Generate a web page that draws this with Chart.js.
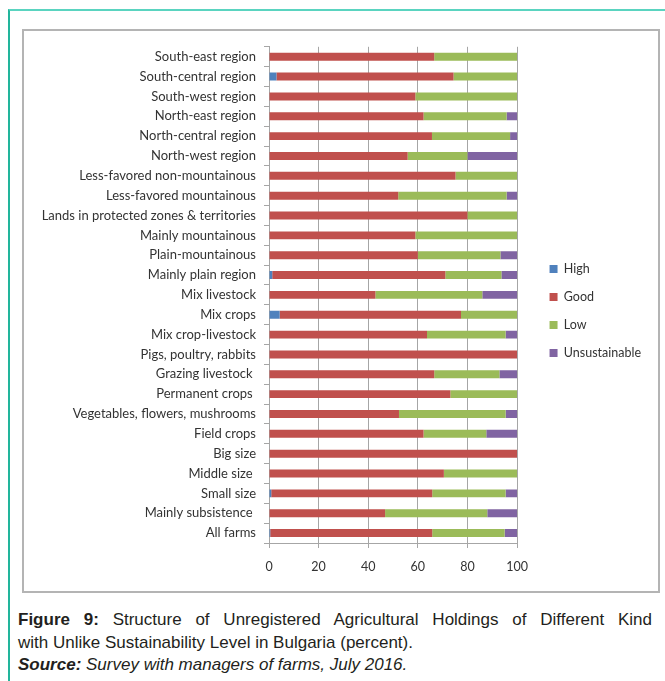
<!DOCTYPE html>
<html>
<head>
<meta charset="utf-8">
<script src="https://cdn.jsdelivr.net/npm/chart.js@4/dist/chart.umd.min.js"></script>
<style>
  html, body { margin: 0; padding: 0; background: #fff; overflow: hidden; }
  body { width: 665px; height: 681px; position: relative; }
  .figura { position: absolute; left: 8px; top: 9px; width: 700px; height: 700px;
            border-left: 2px solid #22b59c; border-top: 2px solid #5ad4c0; }
  .moldura { position: absolute; left: 22px; top: 29px; width: 634px; height: 560px;
             border: 2px solid #b4b4b4; }
  .moldura canvas { display: block; }
  .legenda { position: absolute; left: 18px; top: 609px; width: 634px;
             font-family: "Liberation Sans", Arial, sans-serif; font-size: 17px;
             line-height: 22.5px; color: #231f20; }
  .legenda .l1 { text-align: justify; text-align-last: justify; }
</style>
</head>
<body>
<div class="figura"></div>
<div class="moldura"><canvas id="sustChart" width="634" height="560"></canvas></div>
<div class="legenda">
  <div class="l1"><b>Figure 9:</b> Structure of Unregistered Agricultural Holdings of Different Kind</div>
  <div>with Unlike Sustainability Level in Bulgaria (percent).</div>
  <div><b><i>Source:</i></b> <i>Survey with managers of farms, July 2016.</i></div>
</div>
<script>
const corAlta = '#4f81bd';
const corBoa = '#c0504d';
const corBaixa = '#9bbb59';
const corInsust = '#8064a2';
const corTexto = '#333333';
const corGrade = '#a6a6a6';

const categorias = [
  'South-east region', 'South-central region', 'South-west region', 'North-east region',
  'North-central region', 'North-west region', 'Less-favored non-mountainous',
  'Less-favored mountainous', 'Lands in protected zones & territories', 'Mainly mountainous',
  'Plain-mountainous', 'Mainly plain region', 'Mix livestock', 'Mix crops',
  'Mix crop-livestock', 'Pigs, poultry, rabbits', 'Grazing livestock ', 'Permanent crops ',
  'Vegetables, flowers, mushrooms', 'Field crops', 'Big size', 'Middle size ',
  'Small size', 'Mainly subsistence ', 'All farms'
];

const high =          [0, 3, 0, 0, 0, 0, 0, 0, 0, 0, 0, 1.3, 0, 4.3, 0, 0, 0, 0, 0, 0, 0, 0, 0.9, 0, 0.5];
const good =          [66.6, 71.4, 59, 62.3, 65.7, 55.9, 75.2, 52.1, 80, 59, 60, 69.8, 42.9, 73.1, 63.7, 100, 66.6, 73.1, 52.4, 62.3, 100, 70.5, 64.9, 46.8, 65.3];
const low =           [33.4, 25.6, 41, 33.5, 31.5, 24.1, 24.8, 43.7, 20, 41, 33.3, 22.6, 43.1, 22.6, 31.7, 0, 26.3, 26.9, 43, 25.3, 0, 29.5, 29.6, 41.2, 29.2];
const unsustainable = [0, 0, 0, 4.2, 2.8, 20, 0, 4.2, 0, 0, 6.7, 6.3, 14, 0, 4.6, 0, 7.1, 0, 4.6, 12.4, 0, 0, 4.6, 12, 5];

const ticksX = [0, 20, 40, 60, 80, 100];

const fonteEixo = { family: 'Lato, "Open Sans", sans-serif', size: 13 };

function serie(rotulo, dados, cor) {
  return {
    label: rotulo,
    data: dados,
    backgroundColor: cor,
    borderWidth: 0,
    barPercentage: 0.4,
    categoryPercentage: 1
  };
}

// empurra a legenda para a direita e um pouco para cima
const deslocaLegenda = {
  id: 'deslocaLegenda',
  afterLayout(chart) {
    if (chart.legend) {
      chart.legend.left += 17;
      chart.legend.right += 17;
      chart.legend.top -= 4;
      chart.legend.bottom -= 4;
    }
  }
};

const ctx = document.getElementById('sustChart');

new Chart(ctx, {
  type: 'bar',
  data: {
    labels: categorias,
    datasets: [
      serie('High', high, corAlta),
      serie('Good', good, corBoa),
      serie('Low', low, corBaixa),
      serie('Unsustainable', unsustainable, corInsust)
    ]
  },
  plugins: [deslocaLegenda],
  options: {
    indexAxis: 'y',
    responsive: false,
    animation: false,
    layout: { padding: { top: 14, bottom: 6, left: 0, right: 24 } },
    plugins: {
      legend: {
        position: 'right',
        labels: {
          color: corTexto,
          font: { family: fonteEixo.family, size: 12.5 },
          boxWidth: 8,
          boxHeight: 8,
          padding: 15.5
        }
      },
      tooltip: { enabled: false }
    },
    scales: {
      x: {
        stacked: true,
        min: 0,
        max: 100,
        afterBuildTicks: (eixo) => { eixo.ticks = ticksX.map(v => ({ value: v })); },
        ticks: { color: corTexto, font: { family: fonteEixo.family, size: 12.5 }, padding: 11 },
        grid: { color: corGrade, tickLength: 5 },
        border: { color: corGrade }
      },
      y: {
        stacked: true,
        afterFit: (eixo) => { eixo.width = 245; },
        ticks: { color: corTexto, font: fonteEixo, padding: 8, autoSkip: false },
        grid: { offset: true, drawOnChartArea: false, color: corGrade, tickLength: 5 },
        border: { color: corGrade }
      }
    }
  }
});
</script>
</body>
</html>
